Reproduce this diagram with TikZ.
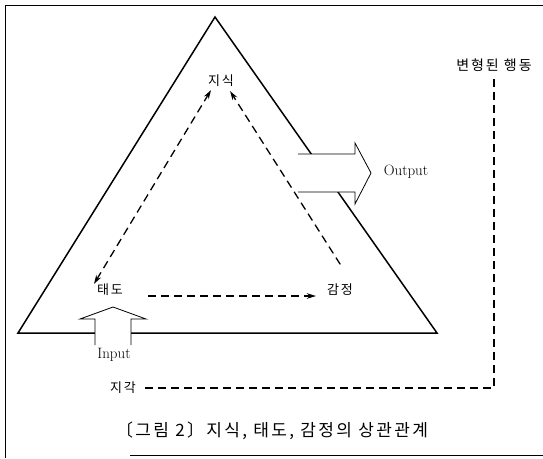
\documentclass[tikz,border=0pt]{standalone}
\usepackage{fontspec}
\newfontfamily\kr[LetterSpace=14]{Noto Sans CJK KR}
\usetikzlibrary{arrows.meta,calc}

\begin{document}
\begin{tikzpicture}[x=1pt,y=-1pt,lbl/.style={font=\kr\fontsize{13}{15}\selectfont, inner sep=1pt},eng/.style={font=\fontsize{15}{17}\selectfont, inner sep=1pt},link/.style={line width=1.3pt, dash pattern=on 8pt off 5pt},tipped/.style={-{Stealth[length=9pt,width=5.5pt]}},blk/.style={line width=0.8pt, line join=miter}]
\useasboundingbox (0,0) rectangle (543,458);
\draw[line width=0.8pt] (5,458) -- (5,5) -- (543,5);
\draw[line width=0.8pt] (130,455) -- (543,455);
\draw[line width=1.5pt, line join=miter] (215,17) -- (437,333) -- (18,333) -- cycle;
% output / input block arrows
\fill[white] (298,154) -- (355,154) -- (355,143) -- (371,173) -- (355,204) -- (355,192) -- (298,192) -- cycle;
\draw[blk] (298,154) -- (355,154) -- (355,143) -- (371,173) -- (355,204) -- (355,192) -- (298,192);
\fill[white] (95,345) -- (95,319) -- (80,319) -- (113,307) -- (146,319) -- (131,319) -- (131,345) -- cycle;
\draw[blk] (95,345) -- (95,319) -- (80,319) -- (113,307) -- (146,319) -- (131,319) -- (131,345);
\node[lbl] (jisik) at (221,81) {지식};
\node[lbl] (taedo) at (110,290) {태도};
\node[lbl] (gamjeong) at (340,290) {감정};
\node[lbl, font=\kr\fontsize{14}{16}\selectfont] (haengdong) at (494,65) {변형된 행동};
\node[lbl] (jigak) at (123,388) {지각};
\node[eng] (output) at (406,172) {Output};
\node[eng] (input) at (114,355) {Input};
\node[font=\kr\fontsize{17}{19}\selectfont, inner sep=1pt] (caption) at (272,431) {〔그림 2〕지식, 태도, 감정의 상관관계};
\draw[link, {Stealth[length=9pt,width=5.5pt]}-{Stealth[length=9pt,width=5.5pt]}] ([xshift=-16pt,yshift=-1pt]taedo.north) -- ([xshift=-10pt,yshift=-2pt]jisik.south);
\draw[link, tipped, shorten <=22pt] ([xshift=-2pt]gamjeong.north east) -- ([xshift=-5pt,yshift=-3pt]jisik.south east);
\draw[link, tipped, shorten <=24pt, shorten >=10pt] ([yshift=-6pt]taedo.east) -- ([yshift=-6pt]gamjeong.west);
\draw[link, shorten <=8pt, shorten >=6pt] (jigak.east) -| (haengdong.south);
\end{tikzpicture}
\end{document}
